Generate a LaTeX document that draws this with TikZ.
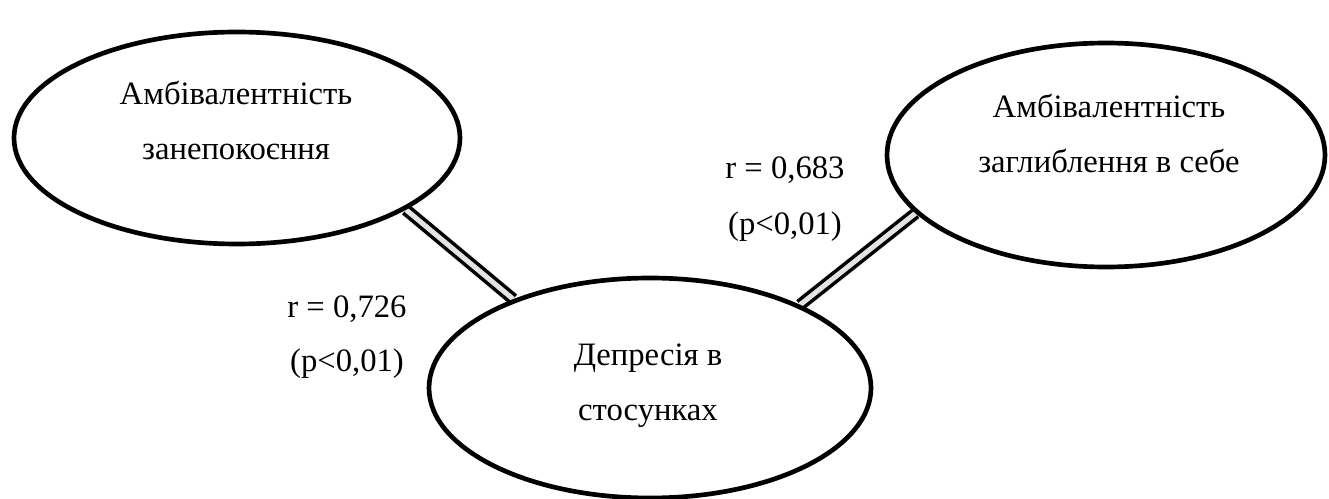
\documentclass[tikz,border=0pt]{standalone}
\usepackage{fontspec}
\setmainfont{Liberation Serif}
\usetikzlibrary{shapes.geometric,backgrounds}
\begin{document}
\begin{tikzpicture}[x=0.75pt,y=-0.75pt,
  oval/.style={ellipse, draw=black, line width=3.5pt, fill=white, inner sep=0pt},
  txt/.style={anchor=base, inner sep=0pt, font=\fontsize{24.5}{30}\selectfont},
  link/.style={draw=black, line width=2.6pt, double=gray!22, double distance=3.8pt},
  linkshadow/.style={draw=black, line width=#1, opacity=0.09, yshift=-4.5pt}
]
\useasboundingbox (0,0) rectangle (1329,499);
\node[oval, minimum width=334.5pt, minimum height=159pt] (L) at (237,138) {};
\node[oval, minimum width=328.5pt, minimum height=168pt] (R) at (1106,155) {};
\node[oval, minimum width=331.5pt, minimum height=165pt] (B) at (650,388) {};

\begin{pgfonlayer}{background}
  \foreach \w in {4pt,7pt,10pt}{
    \draw[linkshadow=\w] (L.-23) -- (B.147);
    \draw[linkshadow=\w] (R.197) -- (B.29);
  }
  \draw[link] (L.-23) -- (B.147);
  \draw[link] (R.197) -- (B.29);
\end{pgfonlayer}

\node[txt] (l1) at (236,105) {Амбівалентність};
\node[txt] (l2) at (236,160) {занепокоєння};
\node[txt] (r1) at (1109,118) {Амбівалентність};
\node[txt] (r2) at (1109,173) {заглиблення в себе};
\node[txt] (b1) at (648,365) {Депресія в};
\node[txt] (b2) at (648,420) {стосунках};
\node[txt] (c1) at (347,317) {r = 0,726};
\node[txt] (p1) at (347,371) {(p<0,01)};
\node[txt] (c2) at (785,179) {r = 0,683};
\node[txt] (p2) at (785,235) {(p<0,01)};
\end{tikzpicture}
\end{document}
